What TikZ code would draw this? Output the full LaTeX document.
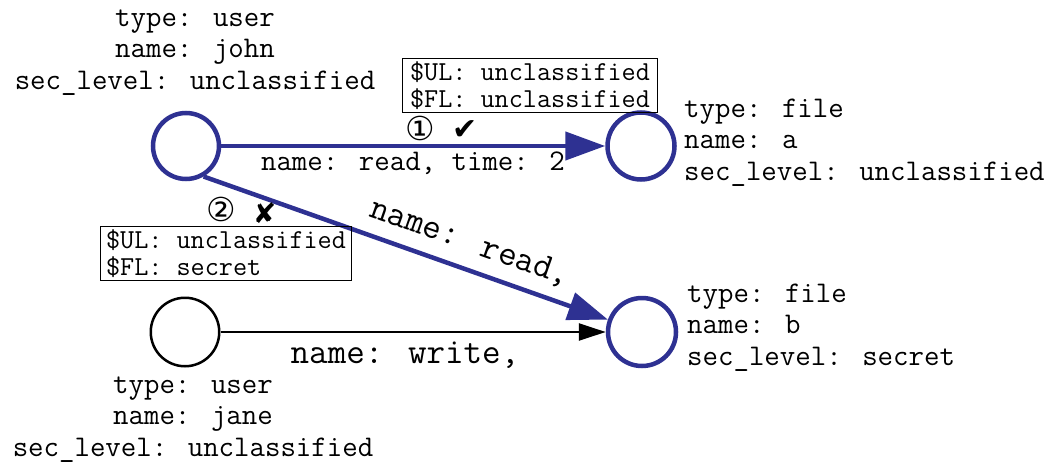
\documentclass[tikz,border=0pt]{standalone}
\usepackage{fontspec}
\newfontfamily\symfont{DejaVu Sans}
\usetikzlibrary{arrows.meta}
\definecolor{ublue}{RGB}{46,49,146}
\begin{document}
\begin{tikzpicture}[x=1pt,y=-1pt,
  lbl/.style={font=\ttfamily\fontsize{30}{31.5}\selectfont, inner sep=0pt},
  biglbl/.style={font=\ttfamily\fontsize{36}{40}\selectfont, inner sep=0pt},
  lvlbox/.style={draw, line width=1pt, font=\ttfamily\fontsize{27.4}{27}\selectfont, align=left, inner xsep=2pt, inner ysep=0pt, minimum height=54pt, anchor=north west},
  sym/.style={font=\symfont\fontsize{33}{33}\selectfont, inner sep=0pt},
  tickmark/.style={font=\symfont\fontsize{30}{30}\selectfont, inner sep=0pt},
  bluenode/.style={circle, draw=ublue, line width=4.5pt, inner sep=0pt},
  blacknode/.style={circle, draw=black, line width=2.5pt, inner sep=0pt},
  bluearrow/.style={draw=ublue, line width=4.5pt, -{Triangle[length=40pt,width=28pt]}},
  blackarrow/.style={draw=black, line width=2.5pt, -{Triangle[length=27pt,width=17pt]}}]
\useasboundingbox (0,0) rectangle (1054,463);

\node[bluenode, minimum size=66pt] (john) at (186,146) {};
\node[bluenode, minimum size=67pt] (a) at (641,146) {};
\node[bluenode, minimum size=68pt] (b) at (642,332) {};
\node[blacknode, minimum size=68.5pt] (jane) at (185,332) {};

\draw[bluearrow] (john) -- (a);
\draw[bluearrow] (john.-60) -- (b.160);
\draw[blackarrow] (jane) -- (b);

\node[lbl, align=center, anchor=base] (johnlbl) at (195,89) {type: user\\name: john\\sec\_level: unclassified};
\node[lbl, align=center, anchor=base] (janelbl) at (193,456) {type: user\\name: jane\\sec\_level: unclassified};
\node[lbl, align=left, anchor=base west] (albl) at (684,180) {type: file\\name: a\\sec\_level: unclassified};
\node[lbl, align=left, anchor=base west] (blbl) at (687,365) {type: file\\name: b\\sec\_level: secret};

\node[lbl, anchor=base] (e1lbl) at (413,170) {name: read, time: 2};
\node[biglbl, rotate=-19.4, anchor=center] (e2lbl) at (470,243) {name: read,};
\node[biglbl, anchor=base] (e3lbl) at (405,363) {name: write,};

\node[lvlbox, minimum width=255pt] (box1) at (402,58) {\$UL: unclassified\\\$FL: unclassified};
\node[lvlbox, minimum width=251pt] (box2) at (100,226) {\$UL: unclassified\\\$FL: secret\hphantom{ssssss}};

\node[sym] (n1) at (420.5,128) {①};
\node[tickmark] (ok) at (465,130) {✔};
\node[sym] (n2) at (221,209) {②};
\node[tickmark, font=\symfont\fontsize{28}{28}\selectfont] (no) at (264.5,213.5) {✘};
\end{tikzpicture}
\end{document}
